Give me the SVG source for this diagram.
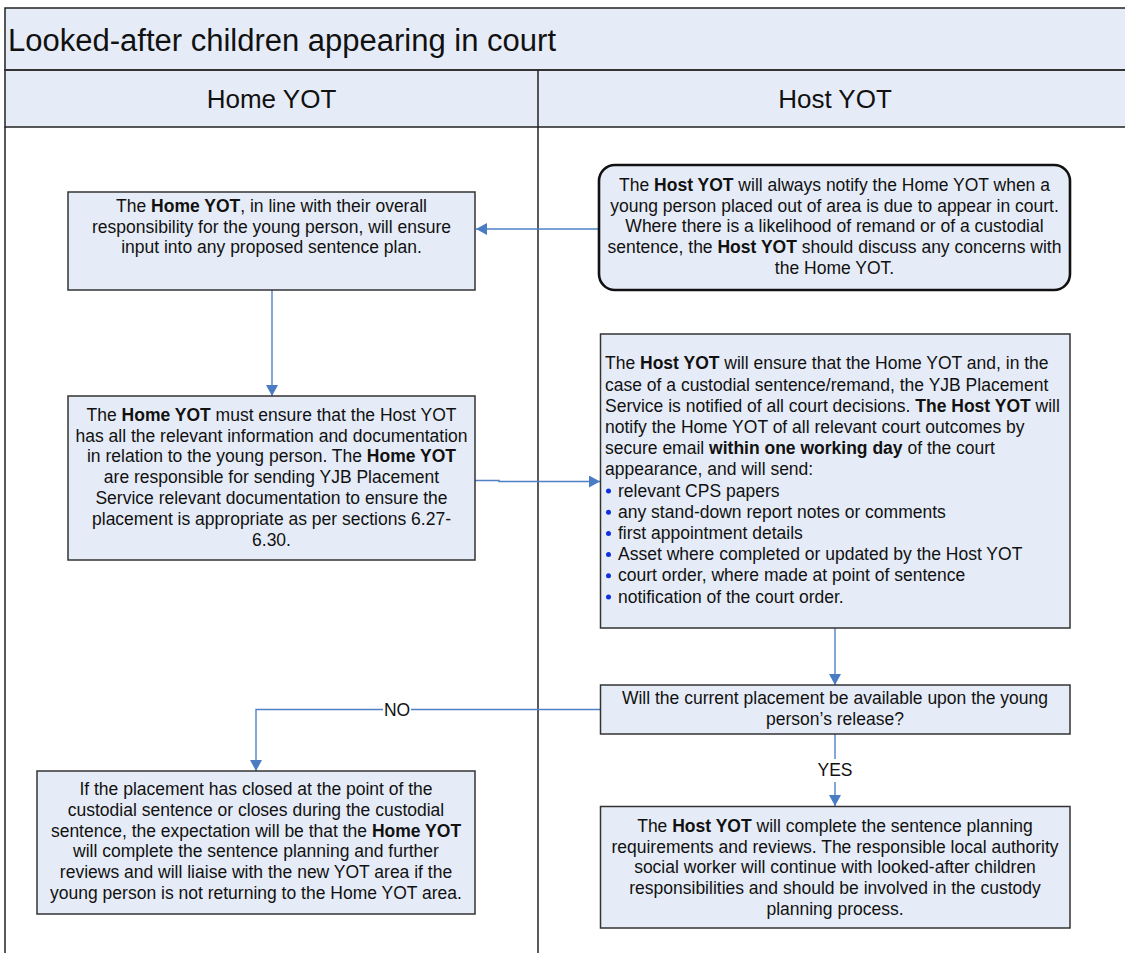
<svg xmlns="http://www.w3.org/2000/svg" width="1125" height="953" viewBox="0 0 1125 953">
<defs>
<style>
text{font-family:"Liberation Sans",Arial,sans-serif;fill:#111;}
.t{font-size:17.5px;}
.c{text-anchor:middle;}
.b{font-weight:bold;}
.box{fill:#E6ECF7;stroke:#333;stroke-width:1.5;}
.rbox{fill:#E6ECF7;stroke:#111;stroke-width:2.6;}
.band{fill:#E6ECF7;stroke:#222;stroke-width:1.5;}
.con{fill:none;stroke:#4F81C7;stroke-width:1.4;}
.dot{fill:#1030E0;}
</style>
<marker id="ah" markerUnits="userSpaceOnUse" markerWidth="11" markerHeight="12" refX="11" refY="6" orient="auto">
<path d="M0,0 L11,6 L0,12 z" fill="#4A7CC4"/>
</marker>
</defs>
<rect width="1125" height="953" fill="#fff"/>
<g id="frame">
<rect class="band" x="5" y="8" width="1130" height="62"/>
<rect class="band" x="5" y="70" width="1130" height="57"/>
<line x1="5" y1="70" x2="1135" y2="70" stroke="#333" stroke-width="2.2"/>
<line x1="5" y1="127" x2="5" y2="960" stroke="#222" stroke-width="1.5"/>
<line x1="538" y1="70" x2="538" y2="960" stroke="#222" stroke-width="1.5"/>
<text x="8" y="51" style="font-size:31px">Looked-after children appearing in court</text>
<text class="c" x="271.5" y="107.5" style="font-size:26px">Home YOT</text>
<text class="c" x="835" y="107.5" style="font-size:26px">Host YOT</text>
</g>
<g id="connectors">
<line class="con" x1="599" y1="229" x2="476" y2="229" marker-end="url(#ah)"/>
<line class="con" x1="272" y1="290" x2="272" y2="396" marker-end="url(#ah)"/>
<path class="con" d="M475,480.5 H499 V481.5 H600" marker-end="url(#ah)"/>
<line class="con" x1="835" y1="628" x2="835" y2="685" marker-end="url(#ah)"/>
<path class="con" d="M600,709.5 H411"/>
<path class="con" d="M383,709.5 H256 V771" marker-end="url(#ah)"/>
<text class="t c" x="397" y="715.5">NO</text>
<path class="con" d="M835,734 V759"/>
<path class="con" d="M835,782 V806" marker-end="url(#ah)"/>
<text class="t c" x="835" y="776">YES</text>
</g>
<g id="home-input">
<rect class="box" x="68" y="192" width="407" height="98"/>
<text class="t c" x="271.5" y="212">The <tspan class="b">Home YOT</tspan>, in line with their overall</text>
<text class="t c" x="271.5" y="232.5">responsibility for the young person, will ensure</text>
<text class="t c" x="271.5" y="253">input into any proposed sentence plan.</text>
</g>
<g id="host-notify">
<rect class="rbox" x="599" y="165" width="471" height="125" rx="16" ry="16"/>
<text class="t c" x="834.5" y="190.7">The <tspan class="b">Host YOT</tspan> will always notify the Home YOT when a</text>
<text class="t c" x="834.5" y="211.5">young person placed out of area is due to appear in court.</text>
<text class="t c" x="834.5" y="232.3">Where there is a likelihood of remand or of a custodial</text>
<text class="t c" x="834.5" y="253.1">sentence, the <tspan class="b">Host YOT</tspan> should discuss any concerns with</text>
<text class="t c" x="834.5" y="274">the Home YOT.</text>
</g>
<g id="home-info">
<rect class="box" x="68" y="396" width="407" height="164"/>
<text class="t c" x="271.5" y="420.7">The <tspan class="b">Home YOT</tspan> must ensure that the Host YOT</text>
<text class="t c" x="271.5" y="441.5">has all the relevant information and documentation</text>
<text class="t c" x="271.5" y="462.3">in relation to the young person. The <tspan class="b">Home YOT</tspan></text>
<text class="t c" x="271.5" y="483.1">are responsible for sending YJB Placement</text>
<text class="t c" x="271.5" y="504">Service relevant documentation to ensure the</text>
<text class="t c" x="271.5" y="524.8">placement is appropriate as per sections 6.27-</text>
<text class="t c" x="271.5" y="545.6">6.30.</text>
</g>
<g id="host-outcomes">
<rect class="box" x="600.5" y="334" width="469.5" height="294"/>
<text class="t" x="605" y="369.3">The <tspan class="b">Host YOT</tspan> will ensure that the Home YOT and, in the</text>
<text class="t" x="605" y="390.5">case of a custodial sentence/remand, the YJB Placement</text>
<text class="t" x="605" y="411.7">Service is notified of all court decisions. <tspan class="b">The Host YOT</tspan> will</text>
<text class="t" x="605" y="432.9">notify the Home YOT of all relevant court outcomes by</text>
<text class="t" x="605" y="454.1">secure email <tspan class="b">within one working day</tspan> of the court</text>
<text class="t" x="605" y="475.3">appearance, and will send:</text>
<circle class="dot" cx="608.5" cy="491" r="2.5"/>
<text class="t" x="618" y="496.5">relevant CPS papers</text>
<circle class="dot" cx="608.5" cy="512.2" r="2.5"/>
<text class="t" x="618" y="517.7">any stand-down report notes or comments</text>
<circle class="dot" cx="608.5" cy="533.4" r="2.5"/>
<text class="t" x="618" y="538.9">first appointment details</text>
<circle class="dot" cx="608.5" cy="554.6" r="2.5"/>
<text class="t" x="618" y="560.1">Asset where completed or updated by the Host YOT</text>
<circle class="dot" cx="608.5" cy="575.8" r="2.5"/>
<text class="t" x="618" y="581.3">court order, where made at point of sentence</text>
<circle class="dot" cx="608.5" cy="597" r="2.5"/>
<text class="t" x="618" y="602.5">notification of the court order.</text>
</g>
<g id="decision">
<rect class="box" x="600.5" y="685" width="469.5" height="49"/>
<text class="t c" x="835" y="704">Will the current placement be available upon the young</text>
<text class="t c" x="835" y="725">person’s release?</text>
</g>
<g id="host-complete">
<rect class="box" x="600.5" y="806.5" width="469.5" height="121.5"/>
<text class="t c" x="835" y="831.7">The <tspan class="b">Host YOT</tspan> will complete the sentence planning</text>
<text class="t c" x="835" y="852.5">requirements and reviews. The responsible local authority</text>
<text class="t c" x="835" y="873.3">social worker will continue with looked-after children</text>
<text class="t c" x="835" y="894.1">responsibilities and should be involved in the custody</text>
<text class="t c" x="835" y="915">planning process.</text>
</g>
<g id="home-complete">
<rect class="box" x="37" y="771" width="438" height="143"/>
<text class="t c" x="256" y="795">If the placement has closed at the point of the</text>
<text class="t c" x="256" y="815.8">custodial sentence or closes during the custodial</text>
<text class="t c" x="256" y="836.6">sentence, the expectation will be that the <tspan class="b">Home YOT</tspan></text>
<text class="t c" x="256" y="857.4">will complete the sentence planning and further</text>
<text class="t c" x="256" y="878.2">reviews and will liaise with the new YOT area if the</text>
<text class="t c" x="256" y="899">young person is not returning to the Home YOT area.</text>
</g>
</svg>
